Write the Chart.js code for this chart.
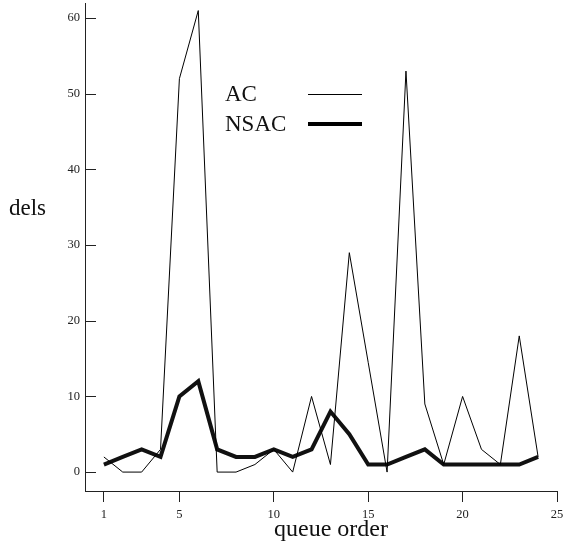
<!DOCTYPE html>
<html>
<head>
<meta charset="utf-8">
<script src="https://cdn.jsdelivr.net/npm/chart.js@4.4.1/dist/chart.umd.min.js"></script>
<style>
  html, body { margin: 0; padding: 0; background: #fff; }
  #wrap { width: 563px; height: 545px; }
</style>
</head>
<body>
<div id="wrap"><canvas id="c" width="563" height="545"></canvas></div>
<script>
// queue order positions and the two delay series
var queueOrder = [1, 2, 3, 4, 5, 6, 7, 8, 9, 10, 11, 12, 13, 14, 15, 16, 17, 18, 19, 20, 21, 22, 23, 24];
var acDels   = [2, 0, 0, 3, 52, 61, 0, 0, 1, 3, 0, 10, 1, 29, 14.5, 0, 53, 9, 1, 10, 3, 1, 18, 2];
var nsacDels = [1, 2, 3, 2, 10, 12, 3, 2, 2, 3, 2, 3, 8, 5, 1, 1, 2, 3, 1, 1, 1, 1, 1, 2];
var xTicks = [1, 5, 10, 15, 20, 25];
var yTicks = [0, 10, 20, 30, 40, 50, 60];

var serif = "'Liberation Serif', 'DejaVu Serif', serif";

function toPoints(xs, ys) {
    var out = [];
    for (var i = 0; i < xs.length; i++) {
        out.push({ x: xs[i], y: ys[i] });
    }
    return out;
}

// y ticks in the original point inwards, titles and legend are drawn by hand
var extras = {
    id: "extras",
    afterDraw: function (chart) {
        var ctx = chart.ctx;
        var ys = chart.scales.y;
        var area = chart.chartArea;
        ctx.save();
        ctx.strokeStyle = "#222";
        ctx.lineWidth = 1;
        for (var i = 0; i < yTicks.length; i++) {
            var py = Math.round(ys.getPixelForValue(yTicks[i])) + 0.5;
            ctx.beginPath();
            ctx.moveTo(area.left, py);
            ctx.lineTo(area.left + 11, py);
            ctx.stroke();
        }

        ctx.fillStyle = "#111";
        ctx.textBaseline = "middle";
        ctx.textAlign = "left";
        ctx.font = "23px " + serif;
        ctx.fillText("dels", 9, 209);

        ctx.textAlign = "center";
        ctx.font = "24px " + serif;
        ctx.fillText("queue order", 331, 530);

        // legend: label on the left, line sample on the right
        ctx.textAlign = "left";
        ctx.font = "23px " + serif;
        ctx.fillText("AC", 225, 95);
        ctx.fillText("NSAC", 225, 125);
        ctx.strokeStyle = "#000";
        ctx.lineWidth = 1;
        ctx.beginPath();
        ctx.moveTo(308, 94.5);
        ctx.lineTo(362, 94.5);
        ctx.stroke();
        ctx.lineWidth = 4;
        ctx.beginPath();
        ctx.moveTo(308, 124);
        ctx.lineTo(362, 124);
        ctx.stroke();
        ctx.restore();
    }
};

new Chart(document.getElementById("c"), {
    type: "line",
    data: {
        datasets: [
            {
                label: "AC",
                data: toPoints(queueOrder, acDels),
                borderColor: "#000",
                borderWidth: 1,
                pointRadius: 0,
                tension: 0,
                fill: false
            },
            {
                label: "NSAC",
                data: toPoints(queueOrder, nsacDels),
                borderColor: "#111",
                borderWidth: 4,
                borderJoinStyle: "miter",
                pointRadius: 0,
                tension: 0,
                fill: false
            }
        ]
    },
    options: {
        responsive: false,
        animation: false,
        layout: { padding: { top: 3, right: 6, left: 0, bottom: 0 } },
        plugins: {
            legend: { display: false },
            tooltip: { enabled: false }
        },
        scales: {
            x: {
                type: "linear",
                min: 0,
                max: 25,
                afterBuildTicks: function (s) {
                    s.ticks = xTicks.map(function (v) { return { value: v }; });
                },
                afterFit: function (s) {
                    s.height = 54;
                    s.paddingLeft = 0;
                    s.paddingRight = 0;
                },
                grid: {
                    drawOnChartArea: false,
                    drawTicks: true,
                    tickLength: 11,
                    color: "#222"
                },
                border: { display: true, color: "#222", width: 1 },
                ticks: {
                    autoSkip: false,
                    maxRotation: 0,
                    padding: 5,
                    color: "#222",
                    font: { family: serif, size: 12.5 }
                }
            },
            y: {
                type: "linear",
                min: -2.5,
                max: 62,
                afterBuildTicks: function (s) {
                    s.ticks = yTicks.map(function (v) { return { value: v }; });
                },
                afterFit: function (s) {
                    s.width = 85;
                    s.paddingTop = 0;
                    s.paddingBottom = 0;
                },
                grid: {
                    drawOnChartArea: false,
                    drawTicks: false
                },
                border: { display: true, color: "#222", width: 1 },
                ticks: {
                    autoSkip: false,
                    padding: 5,
                    color: "#222",
                    font: { family: serif, size: 12.5 }
                }
            }
        }
    },
    plugins: [extras]
});
</script>
</body>
</html>
